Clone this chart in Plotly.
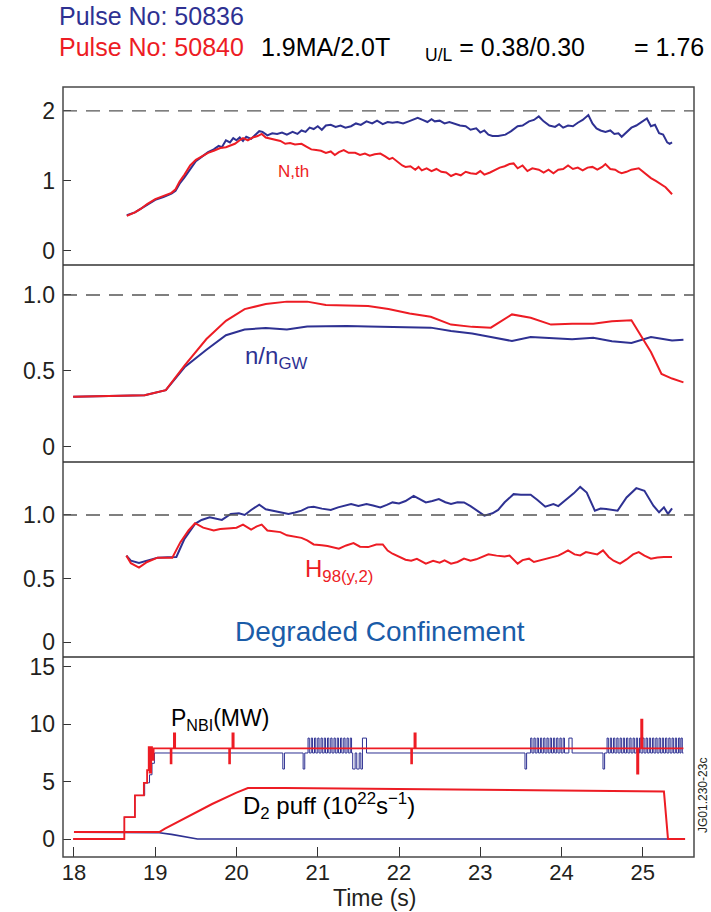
import plotly.graph_objects as go

BLUE = "#2e3192"
RED = "#ed1c24"
FRAME = "#4a4a4a"

# ---------------- Panel 1: beta N,th ----------------
p1_blue_t = [18.65,18.70,18.75,18.82,18.90,19.00,19.10,19.20,19.25,19.30,19.36,19.43,19.50,19.58,19.65,19.72,19.78,19.82,19.87,19.92,19.96,20.00,20.04,20.08,20.12,20.18,20.24,20.28,20.32,20.38,20.44,20.50,20.56,20.62,20.69,20.75,20.80,20.85,20.90,20.95,21.00,21.05,21.10,21.16,21.22,21.28,21.34,21.41,21.47,21.53,21.60,21.67,21.73,21.80,21.86,21.92,21.98,22.05,22.12,22.18,22.23,22.29,22.35,22.40,22.44,22.50,22.56,22.62,22.69,22.75,22.82,22.88,22.95,23.00,23.05,23.10,23.15,23.22,23.31,23.38,23.46,23.52,23.60,23.66,23.72,23.78,23.85,23.92,23.97,24.02,24.08,24.14,24.20,24.26,24.33,24.38,24.43,24.48,24.54,24.60,24.65,24.70,24.74,24.80,24.86,24.92,24.98,25.05,25.10,25.15,25.20,25.25,25.30,25.33,25.36]
p1_blue_v = [0.51,0.53,0.55,0.60,0.66,0.73,0.77,0.82,0.86,0.96,1.05,1.17,1.28,1.35,1.41,1.45,1.50,1.48,1.58,1.55,1.61,1.58,1.62,1.57,1.63,1.60,1.66,1.71,1.70,1.65,1.68,1.67,1.69,1.66,1.70,1.67,1.72,1.70,1.76,1.74,1.78,1.73,1.79,1.80,1.77,1.79,1.76,1.78,1.82,1.80,1.85,1.82,1.86,1.81,1.84,1.83,1.84,1.82,1.85,1.88,1.90,1.87,1.84,1.88,1.85,1.86,1.82,1.84,1.81,1.79,1.78,1.73,1.75,1.69,1.72,1.66,1.64,1.64,1.66,1.71,1.78,1.79,1.85,1.87,1.92,1.85,1.79,1.77,1.81,1.76,1.79,1.78,1.83,1.87,1.94,1.82,1.75,1.72,1.70,1.72,1.67,1.68,1.63,1.70,1.76,1.79,1.84,1.89,1.78,1.80,1.68,1.66,1.55,1.53,1.55]
p1_red_t = [18.65,18.70,18.75,18.82,18.90,19.00,19.10,19.20,19.25,19.30,19.36,19.43,19.50,19.58,19.65,19.72,19.80,19.87,19.92,19.98,20.04,20.08,20.14,20.20,20.26,20.31,20.36,20.42,20.48,20.54,20.60,20.66,20.72,20.80,20.86,20.92,20.98,21.04,21.10,21.16,21.21,21.26,21.32,21.38,21.46,21.52,21.58,21.64,21.70,21.77,21.83,21.88,21.92,21.98,22.04,22.08,22.14,22.20,22.24,22.28,22.34,22.40,22.46,22.52,22.58,22.64,22.70,22.76,22.82,22.88,22.95,23.00,23.05,23.12,23.18,23.24,23.30,23.36,23.41,23.46,23.52,23.58,23.64,23.72,23.78,23.84,23.90,23.96,24.02,24.08,24.14,24.20,24.26,24.32,24.38,24.44,24.50,24.54,24.60,24.66,24.70,24.74,24.80,24.86,24.95,25.00,25.05,25.10,25.16,25.22,25.28,25.32,25.36]
p1_red_v = [0.50,0.52,0.55,0.60,0.67,0.74,0.78,0.83,0.88,0.99,1.09,1.22,1.30,1.36,1.40,1.43,1.47,1.48,1.50,1.53,1.58,1.61,1.58,1.62,1.64,1.67,1.62,1.60,1.59,1.57,1.53,1.54,1.52,1.53,1.49,1.45,1.44,1.43,1.40,1.42,1.37,1.41,1.44,1.40,1.40,1.37,1.39,1.36,1.38,1.39,1.35,1.31,1.33,1.27,1.22,1.20,1.21,1.16,1.20,1.15,1.18,1.14,1.17,1.13,1.12,1.07,1.10,1.08,1.13,1.11,1.10,1.14,1.09,1.12,1.16,1.19,1.21,1.24,1.25,1.18,1.22,1.14,1.18,1.16,1.12,1.16,1.11,1.16,1.17,1.22,1.17,1.19,1.15,1.19,1.20,1.16,1.20,1.24,1.17,1.16,1.13,1.11,1.13,1.16,1.18,1.13,1.09,1.04,1.00,0.95,0.91,0.86,0.81]

# ---------------- Panel 2: n/nGW ----------------
p2_t = [17.99,18.87,19.13,19.36,19.63,19.87,20.10,20.36,20.62,20.87,21.10,21.36,21.62,21.87,22.13,22.39,22.64,22.90,23.13,23.39,23.62,23.87,24.13,24.39,24.62,24.86,25.10,25.23,25.36,25.50]
p2_red_v = [0.33,0.34,0.374,0.535,0.71,0.83,0.907,0.94,0.956,0.956,0.934,0.931,0.927,0.907,0.878,0.856,0.805,0.79,0.785,0.872,0.85,0.805,0.81,0.81,0.827,0.834,0.624,0.48,0.45,0.425]
p2_blue_v = [0.33,0.34,0.374,0.524,0.64,0.735,0.772,0.783,0.772,0.792,0.794,0.796,0.793,0.79,0.788,0.785,0.763,0.746,0.723,0.697,0.723,0.717,0.708,0.719,0.695,0.684,0.723,0.712,0.70,0.706]

# ---------------- Panel 3: H98(y,2) ----------------
p3_red_t = [18.645,18.70,18.80,18.90,19.03,19.12,19.21,19.31,19.41,19.49,19.59,19.72,19.80,19.93,20.00,20.08,20.18,20.25,20.31,20.38,20.46,20.54,20.62,20.72,20.80,20.87,20.95,21.05,21.12,21.26,21.35,21.44,21.52,21.62,21.72,21.80,21.86,21.92,22.00,22.08,22.15,22.22,22.33,22.42,22.50,22.56,22.64,22.72,22.80,22.88,22.95,23.02,23.10,23.20,23.30,23.36,23.46,23.52,23.60,23.66,23.72,23.80,23.88,23.96,24.02,24.08,24.16,24.23,24.30,24.38,24.44,24.51,24.58,24.64,24.72,24.80,24.88,24.95,25.02,25.10,25.18,25.26,25.36]
p3_red_v = [0.68,0.62,0.586,0.63,0.664,0.664,0.664,0.786,0.878,0.935,0.90,0.878,0.89,0.896,0.90,0.924,0.885,0.91,0.924,0.878,0.87,0.865,0.84,0.831,0.82,0.80,0.768,0.762,0.755,0.734,0.76,0.779,0.75,0.747,0.768,0.768,0.72,0.695,0.67,0.648,0.64,0.655,0.617,0.64,0.625,0.643,0.617,0.63,0.656,0.64,0.651,0.67,0.69,0.68,0.674,0.68,0.617,0.645,0.656,0.63,0.64,0.655,0.669,0.68,0.70,0.721,0.69,0.682,0.708,0.70,0.69,0.721,0.669,0.64,0.617,0.65,0.69,0.708,0.68,0.656,0.666,0.669,0.669]
p3_blue_t = [18.645,18.70,18.80,18.90,19.03,19.15,19.26,19.36,19.49,19.57,19.67,19.82,19.93,20.03,20.10,20.18,20.28,20.36,20.44,20.54,20.64,20.72,20.80,20.88,20.95,21.05,21.16,21.25,21.33,21.41,21.50,21.60,21.68,21.77,21.85,21.92,22.00,22.08,22.18,22.26,22.33,22.41,22.49,22.57,22.64,22.72,22.80,22.88,22.95,23.05,23.15,23.22,23.30,23.41,23.50,23.62,23.70,23.80,23.90,23.96,24.08,24.15,24.23,24.31,24.41,24.48,24.55,24.62,24.69,24.80,24.92,25.02,25.08,25.13,25.20,25.26,25.31,25.36]
p3_blue_v = [0.68,0.64,0.622,0.64,0.664,0.668,0.669,0.812,0.93,0.961,0.982,0.961,1.008,1.013,1.00,1.039,1.081,1.045,1.034,1.02,1.008,1.02,1.034,1.06,1.065,1.05,1.039,1.06,1.07,1.086,1.07,1.086,1.075,1.06,1.08,1.099,1.09,1.11,1.151,1.12,1.099,1.11,1.125,1.10,1.086,1.10,1.099,1.07,1.039,0.995,1.013,1.04,1.10,1.164,1.16,1.159,1.12,1.065,1.086,1.07,1.133,1.17,1.221,1.177,1.034,1.05,1.047,1.04,1.034,1.138,1.211,1.19,1.12,1.073,1.021,1.06,1.008,1.052]

# ---------------- Panel 4: P_NBI (steps) and D2 puff ----------------
nbi_red_t = [17.99,18.62,18.75,18.86,18.90,18.92,18.93,18.95,18.96,18.98,19.19,19.20,19.23,19.245,19.91,19.92,19.95,19.965,22.15,22.16,22.19,22.205,24.93,24.945,24.98,24.995,25.50]
nbi_red_v = [0.0,1.9,3.8,4.9,6.0,8.0,5.8,8.0,6.9,7.9,6.6,7.9,9.2,7.9,6.6,7.9,9.2,7.9,6.6,7.9,9.2,7.9,5.7,7.9,10.4,7.9,7.9]

nbi_blue_base_t = [17.99,18.62,18.75,18.87,18.93,18.96,18.99,20.57,20.59,20.82,20.84,21.43,21.46,21.48,21.51,21.53,21.55,21.60,23.55,23.57,24.51,24.53,25.50]
nbi_blue_base_v = [0.0,1.9,3.8,4.9,5.6,6.6,7.5,6.1,7.5,6.1,7.5,6.1,7.5,6.1,7.5,6.1,8.8,7.5,6.1,7.5,6.1,7.5,7.5]
nbi_blue_pulse_t = [20.88,20.92,20.96,21.00,21.04,21.08,21.12,21.16,21.20,21.24,21.28,21.32,21.36,21.40,
                    23.62,23.66,23.70,23.74,23.78,23.82,23.86,23.90,23.94,23.98,24.02,24.09,
                    24.56,24.60,24.64,24.68,24.72,24.76,24.80,24.84,24.88,24.92,24.96,25.00,25.04,25.08,25.12,25.16,25.20,25.24,25.28,25.32,25.36,25.40,25.44,25.47]
nbi_blue_pulse_w = [0.016]*25 + [0.04] + [0.016]*24
nbi_pulse_low = 7.5
nbi_pulse_high = 8.8

d2_red_t = [18.00,19.05,19.12,19.40,19.70,20.00,20.14,20.60,21.00,21.50,22.00,22.50,23.00,23.50,24.00,24.50,25.00,25.26,25.31,25.52]
d2_red_v = [0.6,0.6,0.9,1.95,3.05,4.05,4.45,4.44,4.42,4.40,4.37,4.34,4.31,4.28,4.25,4.22,4.18,4.15,0.0,0.0]
d2_blue_t = [18.00,19.05,19.20,19.35,19.52,25.52]
d2_blue_v = [0.6,0.55,0.4,0.2,0.0,0.0]

x_ticks = [18, 19, 20, 21, 22, 23, 24, 25]

# blue NBI: expand base steps (hv) and merge the modulation pulses in time order
step_t, step_v = [], []
for i, (t, v) in enumerate(zip(nbi_blue_base_t, nbi_blue_base_v)):
    if i > 0:
        step_t.append(t); step_v.append(nbi_blue_base_v[i - 1])
    step_t.append(t); step_v.append(v)
merged_t, merged_v = [], []
pulses = sorted(zip(nbi_blue_pulse_t, nbi_blue_pulse_w))
pi = 0
for t, v in zip(step_t, step_v):
    while pi < len(pulses) and pulses[pi][0] < t:
        pt, pw = pulses[pi]
        merged_t += [pt, pt, pt + pw, pt + pw]
        merged_v += [nbi_pulse_low, nbi_pulse_high, nbi_pulse_high, nbi_pulse_low]
        pi += 1
    merged_t.append(t); merged_v.append(v)

fig = go.Figure()

def add(x, y, color, ax, width=2.0, shape="linear"):
    fig.add_trace(go.Scatter(x=x, y=y, mode="lines", xaxis=ax[0], yaxis=ax[1],
                             line=dict(color=color, width=width, shape=shape),
                             showlegend=False, hoverinfo="skip"))

add(p1_blue_t, p1_blue_v, BLUE, ("x", "y"))
add(p1_red_t, p1_red_v, RED, ("x", "y"))
add(p2_t, p2_blue_v, BLUE, ("x2", "y2"))
add(p2_t, p2_red_v, RED, ("x2", "y2"))
add(p3_blue_t, p3_blue_v, BLUE, ("x3", "y3"))
add(p3_red_t, p3_red_v, RED, ("x3", "y3"))
add(d2_blue_t, d2_blue_v, BLUE, ("x4", "y4"), 1.6)
add(d2_red_t, d2_red_v, RED, ("x4", "y4"), 2.0)
add(merged_t, merged_v, BLUE, ("x4", "y4"), 1.0)
add(nbi_red_t, nbi_red_v, RED, ("x4", "y4"), 1.8, "hv")

# geometry in page pixels
L, R, T, B = 63, 694, 87, 857
W, H = R - L, B - T
FIG_W, FIG_H = 711, 912
bounds = [87, 265, 462, 657, 857]
def fy(py):
    return (B - py) / H
def fx(px):
    return (px - L) / W

xr = [17.865, 25.63]
yranges = [[-0.2, 2.34], [-0.099, 1.197], [-0.118, 1.417], [-1.57, 15.87]]
ytv = [[0, 1, 2], [0, 0.5, 1.0], [0, 0.5, 1.0], [0, 5, 10, 15]]
ytt = [["0", "1", "2"], ["0", "0.5", "1.0"], ["0", "0.5", "1.0"], ["0", "5", "10", "15"]]

FONT = "Liberation Sans, Arial, sans-serif"
layout = dict(width=FIG_W, height=FIG_H, paper_bgcolor="white", plot_bgcolor="white",
              margin=dict(l=L, r=FIG_W - R, t=T, b=FIG_H - B, autoexpand=False),
              font=dict(family=FONT, size=23, color="#231f20"), showlegend=False)
for i in range(4):
    sx = "" if i == 0 else str(i + 1)
    dom = [fy(bounds[i + 1]), fy(bounds[i])]
    last = i == 3
    layout["xaxis" + sx] = dict(domain=[0, 1], range=xr, anchor="y" + sx,
                                showline=False, showgrid=False, zeroline=False,
                                ticks="inside" if last else "", ticklen=10, tickwidth=1.2,
                                tickcolor="#333", tickvals=x_ticks,
                                showticklabels=last, tickfont=dict(size=22),
                                ticklabelstandoff=0,
                                matches=None if i == 0 else "x")
    layout["yaxis" + sx] = dict(domain=dom, range=yranges[i], anchor="x" + sx,
                                showline=False, showgrid=False, zeroline=False,
                                ticks="inside", ticklen=8, tickwidth=1.2, tickcolor="#333",
                                tickvals=ytv[i], ticktext=ytt[i], tickfont=dict(size=23),
                                ticklabelstandoff=7)
fig.update_layout(**layout)

# frame and panel separators
fig.add_shape(type="rect", xref="paper", yref="paper", x0=0, x1=1, y0=0, y1=1,
              line=dict(color=FRAME, width=1.5), layer="above")
for b in bounds[1:-1]:
    fig.add_shape(type="line", xref="paper", yref="paper", x0=0, x1=1, y0=fy(b), y1=fy(b),
                  line=dict(color="#333333", width=1.6), layer="above")

# dashed reference lines
for ax, yv in [("", 2.0), ("2", 1.0), ("3", 1.0)]:
    fig.add_shape(type="line", xref=("x" + ax) + " domain", yref="y" + ax,
                  x0=0, x1=1, y0=yv, y1=yv,
                  line=dict(color="#555555", width=1.4, dash="14px,9px"))

def ann(text, px, py, color="#231f20", size=20, xanchor="left", **kw):
    fig.add_annotation(text=text, x=fx(px), y=fy(py), xref="paper", yref="paper",
                       showarrow=False, xanchor=xanchor, yanchor="middle",
                       font=dict(family=FONT, size=size, color=color), **kw)

ann("Pulse No: 50836", 57, 16, BLUE, 25)
ann("Pulse No: 50840", 57, 47, RED, 25)
ann("1.9MA/2.0T", 259, 47, "#000000", 25)
ann("<sub>U/L</sub> = 0.38/0.30", 423, 49, "#000000", 25)
ann("= 1.76", 632, 47, "#000000", 25)

ann("N,th", 276, 171, RED, 17)
ann("n/n<sub>GW</sub>", 243, 358, BLUE, 24)
ann("H<sub>98(y,2)</sub>", 303, 570, RED, 24)
ann("Degraded Confinement", 380, 631, "#1a5ca8", 28, xanchor="center")
ann("P<sub>NBI</sub>(MW)", 169, 719, "#000000", 23)
ann("D<sub>2</sub> puff (10<sup>22</sup>s<sup>−1</sup>)", 241, 806, "#000000", 24)
ann("Time (s)", 374, 898, "#231f20", 23, xanchor="center")
ann("JG01.230-23c", 703, 796, "#231f20", 12, xanchor="center", textangle=-90)

fig.write_html("out.html", config={"displayModeBar": False},
               post_script="document.body.style.margin='0';document.body.style.overflow='hidden';")
